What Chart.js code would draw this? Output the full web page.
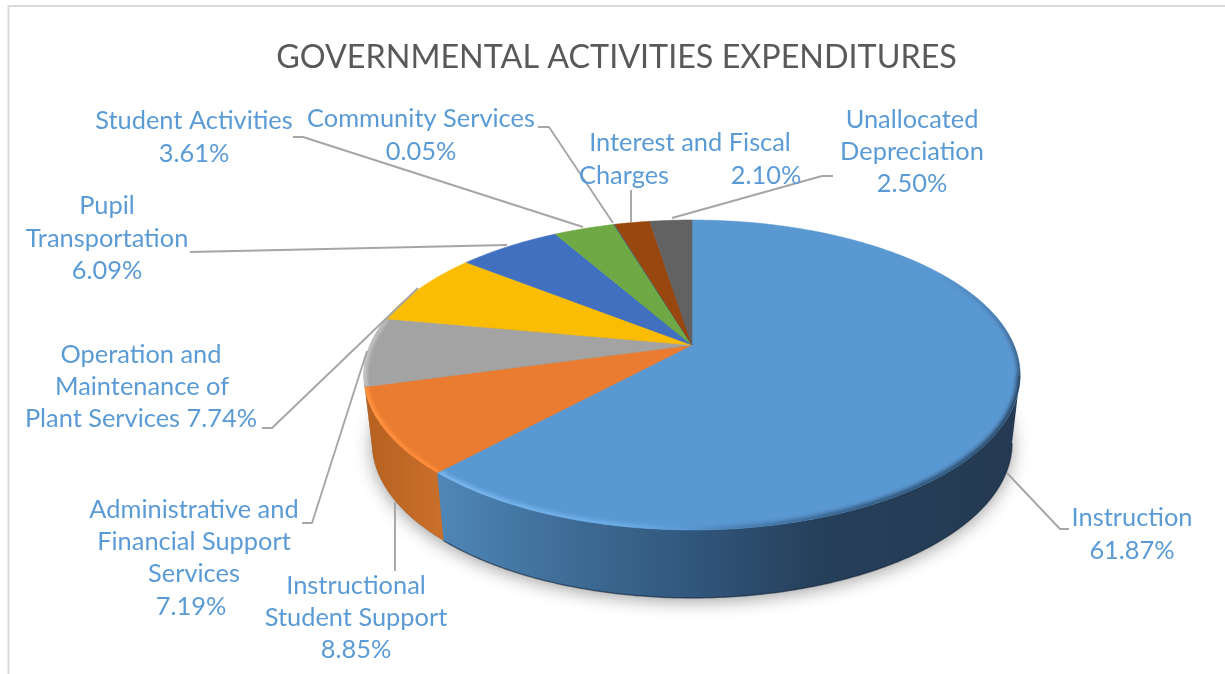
<!DOCTYPE html>
<html><head><meta charset="utf-8">
<style>html,body{margin:0;padding:0;background:#fff;overflow:hidden}canvas{display:block}</style>
<script src="https://cdn.jsdelivr.net/npm/chart.js@4"></script>
</head><body><canvas id="c" width="1225" height="674"></canvas>
<script>
const chartTitle = 'GOVERNMENTAL ACTIVITIES EXPENDITURES';
const categories = ['Instruction','Instructional Student Support','Administrative and Financial Support Services','Operation and Maintenance of Plant Services','Pupil Transportation','Student Activities','Community Services','Interest and Fiscal Charges','Unallocated Depreciation'];
const shares = [61.87,8.85,7.19,7.74,6.09,3.61,0.05,2.10,2.50];
const sliceColors = ['#5a98d2','#e97c30','#a3a3a3','#fabd03','#4270c0','#6fa945','#255e91','#9a460f','#626262'];

// label layout: [text, centre x, y]
const labelPieces = [
 ['Instruction',1132,517],['61.87%',1132,550],
 ['Instructional',356,585],['Student Support',356,617],['8.85%',356,649],
 ['Administrative and',194,509],['Financial Support',194,541],['Services',194,573],['7.19%',191,606],
 ['Operation and',141,354],['Maintenance of',142,386],['Plant Services 7.74%',141,418],
 ['Pupil',107,205],['Transportation',107,238],['6.09%',107,270],
 ['Student Activities',194,120],['3.61%',194,153],
 ['Community Services',421,118],['0.05%',421,151],
 ['Interest and Fiscal',690,142],['Charges',624,175],['2.10%',766,175],
 ['Unallocated',912,119],['Depreciation',912,151],['2.50%',912,183]
];
const leaders = [
 [[1007,473],[1060,529],[1069,529]],
 [[395,502],[395,571]],
 [[367,351],[312,523],[302,523]],
 [[418,288],[272,428],[262,428]],
 [[507,245],[190,252]],
 [[583,227],[303,137],[293,137]],
 [[613,223],[549,127],[538,127]],
 [[631,222],[631,190]],
 [[672,218],[822,176],[833,176]]
];

// perspective of the tilted disc
const CX=692, CY=345, A=322, B=82.4, K=-0.1935, DEPTH=68, BOTTOM=0.975;
const T_R=Math.asin(0.1935), T_L=Math.PI-T_R;
const topPt = t => { const u=Math.cos(t), v=Math.sin(t), d=1+K*v; return [CX+A*u/d, (CY+B*v)/d]; };
const botPt = t => { const p=topPt(t); return [CX+(p[0]-CX)*BOTTOM, p[1]+DEPTH]; };
const arcPts = (fn,a,b) => { const n=Math.max(2,Math.ceil(Math.abs(b-a)/0.01)), r=[]; for(let i=0;i<=n;i++) r.push(fn(a+(b-a)*i/n)); return r; };
const trace = (ctx,pts,move=true) => pts.forEach((p,i)=> (i==0&&move)?ctx.moveTo(p[0],p[1]):ctx.lineTo(p[0],p[1]));

const wallStops = [
 [[436,'#4f87b8'],[560,'#3f6e98'],[700,'#30557a'],[820,'#263f5a'],[1025,'#243a52']],
 [[360,'#b5601f'],[440,'#c86f2a']],
 [[360,'#8f8f8f'],[400,'#9a9a9a']],
];
function linGrad(ctx,stops){
  const x0=stops[0][0], x1=stops[stops.length-1][0], g=ctx.createLinearGradient(x0,0,x1,0);
  stops.forEach(s=>g.addColorStop((s[0]-x0)/(x1-x0),s[1])); return g;
}

const pie3d = {
  id:'pie3d',
  beforeDatasetDraw(chart){
    const ctx=chart.ctx, arcs=chart.getDatasetMeta(0).data;
    ctx.save();
    // soft shadow on the page
    ctx.save();
    ctx.shadowColor='rgba(0,0,0,0.38)'; ctx.shadowBlur=18; ctx.shadowOffsetY=3;
    ctx.fillStyle='#777';
    ctx.beginPath(); trace(ctx,arcPts(botPt,0,Math.PI*2)); ctx.closePath(); ctx.fill();
    ctx.restore();
    // walls: only the part facing the viewer
    arcs.slice().reverse().forEach(el=>{
      const i=arcs.indexOf(el);
      const a=Math.max(el.startAngle,T_R), b=Math.min(el.endAngle,T_L);
      if(b<=a) return;
      const st=wallStops[i];
      ctx.fillStyle=st?linGrad(ctx,st):sliceColors[i];
      ctx.beginPath();
      trace(ctx,arcPts(topPt,a,b));
      trace(ctx,arcPts(botPt,b,a),false);
      ctx.closePath(); ctx.fill();
    });
    // darker lower edge of the wall
    ctx.strokeStyle='rgba(20,38,58,0.55)'; ctx.lineWidth=1.5;
    ctx.beginPath(); trace(ctx,arcPts(botPt,T_R,arcs[0].endAngle)); ctx.stroke();
    // top faces
    arcs.forEach((el,i)=>{
      ctx.fillStyle=sliceColors[i]; ctx.strokeStyle=sliceColors[i]; ctx.lineWidth=0.6;
      ctx.beginPath(); ctx.moveTo(CX,CY);
      trace(ctx,arcPts(topPt,el.startAngle,el.endAngle),false);
      ctx.closePath(); ctx.fill(); ctx.stroke();
    });
    // bevel along the rim, inside the top face
    const rims=[
      [0,[[440,'#7fbdf3'],[620,'#6fb0ea'],[690,'#5a98d2'],[720,'#4a82b6'],[860,'#2f5275'],[960,'#294766'],[1022,'#243a52']]],
      [1,[[360,'#ff9440'],[445,'#ff8a38']]],
      [2,[[360,'#c4c4c4'],[400,'#b5b5b5']]],
    ];
    rims.forEach(([i,st])=>{
      const el=arcs[i];
      ctx.save();
      ctx.beginPath(); ctx.moveTo(CX,CY); trace(ctx,arcPts(topPt,el.startAngle,el.endAngle),false); ctx.closePath(); ctx.clip();
      ctx.filter=i==0?'blur(2px)':'blur(1.5px)';
      if(i==0){
        const g=ctx.createLinearGradient(0,270,0,378);
        g.addColorStop(0,'#5a98d2'); g.addColorStop(1,'#243a52');
        ctx.strokeStyle=g; ctx.lineWidth=4;
        ctx.beginPath(); trace(ctx,arcPts(topPt,-0.75,T_R+0.01)); ctx.stroke();
      }
      ctx.strokeStyle=linGrad(ctx,st); ctx.lineWidth=i==0?6:7; ctx.lineCap='butt';
      ctx.beginPath();
      trace(ctx,arcPts(topPt,i==0?T_R:el.startAngle,el.endAngle));
      ctx.stroke();
      ctx.restore();
    });
    ctx.restore();
    return false;
  }
};
const annotations = {
  id:'annotations',
  afterDraw(chart){
    const ctx=chart.ctx;
    ctx.save();
    ctx.strokeStyle='#d9d9d9'; ctx.lineWidth=2;
    ctx.beginPath(); ctx.moveTo(8.5,674); ctx.lineTo(8.5,6); ctx.lineTo(1225,6); ctx.stroke();
    ctx.strokeStyle='#a6a6a6'; ctx.lineWidth=1.9; ctx.lineJoin='round';
    leaders.forEach(l=>{ctx.beginPath(); trace(ctx,l); ctx.stroke();});
    ctx.fillStyle='#5b9bd5'; ctx.font='25.4px Lato'; ctx.textAlign='center'; ctx.textBaseline='middle';
    labelPieces.forEach(([t,x,y])=>ctx.fillText(t,x,y+1));
    ctx.restore();
  }
};
new Chart(document.getElementById('c'),{
  type:'pie',
  data:{labels:categories,datasets:[{data:shares,backgroundColor:sliceColors,borderWidth:0}]},
  plugins:[pie3d,annotations],
  options:{
    responsive:false,animation:false,events:[],
    layout:{padding:{left:8,bottom:70}},
    plugins:{
      legend:{display:false},tooltip:{enabled:false},
      title:{display:true,text:chartTitle,color:'#595959',font:{family:'Lato',size:32.3,weight:'normal'},padding:{top:38,bottom:10}}
    }
  }
});
</script></body></html>
